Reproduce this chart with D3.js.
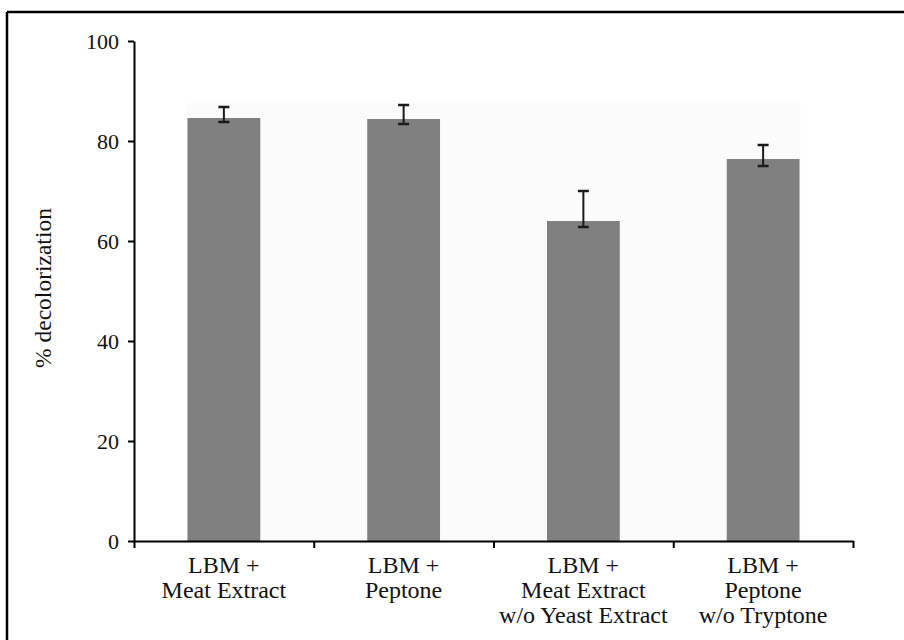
<!DOCTYPE html>
<html>
<head>
<meta charset="utf-8">
<script src="https://cdn.jsdelivr.net/npm/d3@7"></script>
<style>
  body { margin: 0; background: #fff; }
  svg { display: block; font-family: "Liberation Serif", "Times New Roman", serif; }
  .axis path, .axis line { stroke: #000; stroke-width: 2; }
  .axis text { font-family: "Liberation Serif", "Times New Roman", serif; font-size: 22px; fill: #111; }
</style>
</head>
<body>
<div id="chart"></div>
<script>
// media conditions
const categories = [
  ["LBM +", "Meat Extract"],
  ["LBM +", "Peptone"],
  ["LBM +", "Meat Extract", "w/o Yeast Extract"],
  ["LBM +", "Peptone", "w/o Tryptone"]
];
const decolorization = [84.6, 84.4, 64.0, 76.4];
const errUpper = [86.8, 87.2, 70.0, 79.2];
const errLower = [83.8, 83.4, 62.8, 75.0];
const yTicks = [0, 20, 40, 60, 80, 100];
const shadeTop = 87.6;

const width = 904, height = 640;
const svg = d3.select("#chart").append("svg")
  .attr("width", width)
  .attr("height", height);

// frame: top and left edge only
svg.append("line").attr("x1", 7).attr("x2", width).attr("y1", 12).attr("y2", 12)
  .attr("stroke", "#000").attr("stroke-width", 2.5);
svg.append("line").attr("x1", 7).attr("x2", 7).attr("y1", 12).attr("y2", height)
  .attr("stroke", "#000").attr("stroke-width", 2.5);

const keys = categories.map((d, i) => i);

const y = d3.scaleLinear().domain([0, 100]).range([541, 41]);
const x = d3.scaleBand().domain(keys).range([134, 853])
  .paddingInner(0.595).paddingOuter(0.2975);
const xEdges = d3.scaleLinear().domain([0, keys.length]).range([134, 853]);

// faint plot-area shading behind the bars
svg.append("rect")
  .attr("x", x(0) - 1)
  .attr("y", y(shadeTop))
  .attr("width", x(keys.length - 1) + x.bandwidth() - x(0) + 2)
  .attr("height", y(0) - y(shadeTop))
  .attr("fill", "#fbfbfb");

svg.selectAll(".bar")
  .data(decolorization)
  .join("rect")
  .attr("class", "bar")
  .attr("x", (d, i) => x(i))
  .attr("y", (d) => y(d))
  .attr("width", x.bandwidth())
  .attr("height", (d) => y(0) - y(d))
  .attr("fill", "#808080");

// error bars
const eb = svg.selectAll(".err")
  .data(decolorization.map((d, i) => ({ i, hi: errUpper[i], lo: errLower[i] })))
  .join("g")
  .attr("class", "err")
  .attr("stroke", "#1a1a1a");
eb.append("line")
  .attr("x1", (d) => x(d.i) + x.bandwidth() / 2)
  .attr("x2", (d) => x(d.i) + x.bandwidth() / 2)
  .attr("y1", (d) => y(d.hi))
  .attr("y2", (d) => y(d.lo))
  .attr("stroke-width", 2);
eb.selectAll(".cap")
  .data((d) => [d.hi, d.lo].map((v) => ({ i: d.i, v })))
  .join("line")
  .attr("class", "cap")
  .attr("x1", (d) => x(d.i) + x.bandwidth() / 2 - 5.5)
  .attr("x2", (d) => x(d.i) + x.bandwidth() / 2 + 5.5)
  .attr("y1", (d) => y(d.v))
  .attr("y2", (d) => y(d.v))
  .attr("stroke-width", 2.5);

// y axis
svg.append("g")
  .attr("class", "axis")
  .attr("transform", "translate(134,0)")
  .call(d3.axisLeft(y).tickValues(yTicks).tickSize(6).tickPadding(9).tickSizeOuter(0));

// x axis with ticks at category boundaries
svg.append("g")
  .attr("class", "axis")
  .attr("transform", "translate(0,541)")
  .call(d3.axisBottom(xEdges).tickValues(d3.range(keys.length + 1))
    .tickFormat("").tickSize(7).tickSizeOuter(0));

// category labels
svg.selectAll(".cat")
  .data(categories)
  .join("text")
  .attr("class", "cat")
  .attr("text-anchor", "middle")
  .attr("font-size", 24)
  .attr("fill", "#111")
  .each(function (lines, i) {
    d3.select(this).selectAll("tspan")
      .data(lines)
      .join("tspan")
      .attr("x", x(i) + x.bandwidth() / 2)
      .attr("y", (d, j) => 573 + j * 25)
      .text((d) => d);
  });

// y axis title
svg.append("text")
  .attr("transform", "translate(51,288) rotate(-90)")
  .attr("text-anchor", "middle")
  .attr("font-size", 23.5)
  .attr("fill", "#111")
  .text("% decolorization");
</script>
</body>
</html>
